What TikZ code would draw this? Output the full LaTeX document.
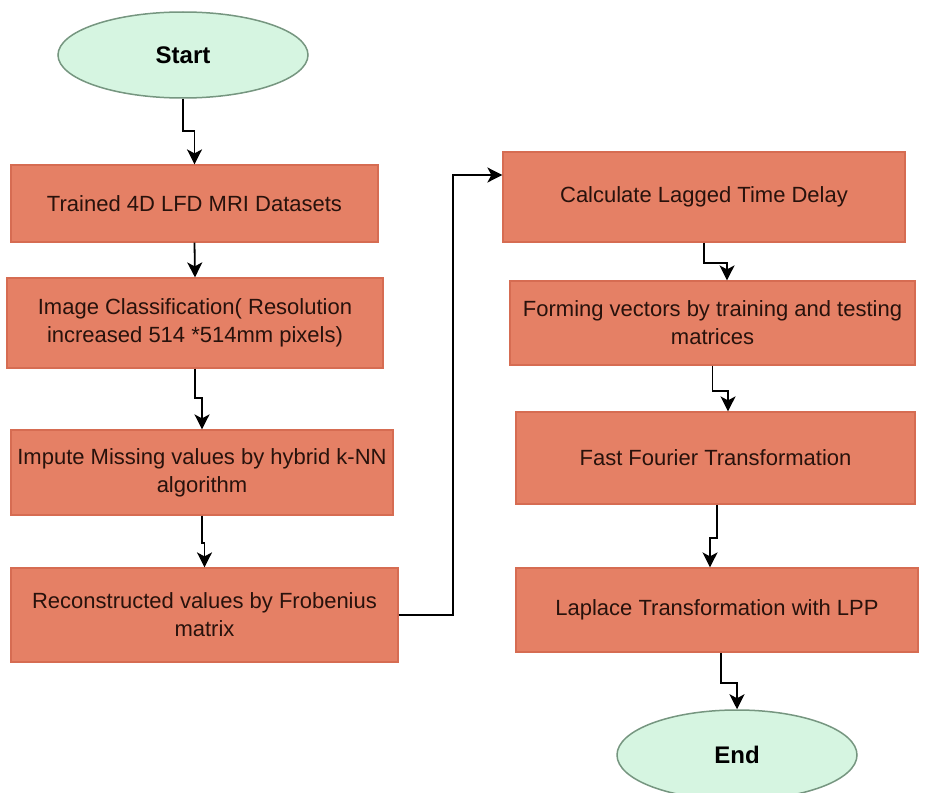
\documentclass[tikz,border=0pt]{standalone}
\usepackage{fontspec}
\setmainfont{Liberation Sans}
\usetikzlibrary{shapes.geometric,arrows.meta,calc}
\definecolor{boxfill}{RGB}{229,128,101}
\definecolor{boxline}{RGB}{214,108,82}
\definecolor{termfill}{RGB}{214,245,225}
\definecolor{termline}{RGB}{118,150,128}
\definecolor{txt}{RGB}{40,18,12}
\begin{document}
\begin{tikzpicture}[x=1pt,y=-1pt,
  procbox/.style={rectangle,draw=boxline,line width=1.2pt,fill=boxfill,
    align=center,inner sep=0pt,text=txt,font=\fontsize{22}{28}\selectfont},
  term/.style={ellipse,draw=termline,line width=1.5pt,fill=termfill,
    inner sep=0pt,font=\fontsize{24}{28}\selectfont\bfseries},
  arr/.style={draw=black,line width=1.8pt,-{Stealth[length=15pt,width=15pt,inset=4pt]}}]
\useasboundingbox (0,0) rectangle (928,792);
\fill[white] (0,0) rectangle (928,792);
% left column
\node[term,minimum width=250pt,minimum height=86pt] (start) at (183,55) {Start};
\node[procbox,minimum width=367pt,minimum height=77pt] (l1) at (194.5,203.5) {Trained 4D LFD MRI Datasets};
\node[procbox,minimum width=376pt,minimum height=90pt] (l2) at (195,323) {Image Classification( Resolution\\increased 514 *514mm pixels)};
\node[procbox,minimum width=382pt,minimum height=85pt] (l3) at (202,472.5) {Impute Missing values by hybrid k-NN\\algorithm};
\node[procbox,minimum width=387pt,minimum height=94pt] (l4) at (204.5,615) {Reconstructed values by Frobenius\\matrix};
% right column
\node[procbox,minimum width=402pt,minimum height=90pt] (r1) at (704,197) {Calculate Lagged Time Delay};
\node[procbox,minimum width=405pt,minimum height=84pt] (r2) at (712.5,323) {Forming vectors by training and testing\\matrices};
\node[procbox,minimum width=399pt,minimum height=92pt] (r3) at (715.5,458) {Fast Fourier Transformation};
\node[procbox,minimum width=402pt,minimum height=84pt] (r4) at (717,610) {Laplace Transformation with LPP};
\node[term,minimum width=240pt,minimum height=90pt] (end) at (737,755) {End};
% connectors
\draw[arr] (start.south) -- ++(0,32) -| (l1.north);
\draw[arr] (l1.south) -- (l2.north);
\draw[arr] (l2.south) -- ++(0,29) -| (l3.north);
\draw[arr] (l3.south) -- ++(0,27) -| (l4.north);
\draw[arr] (l4.east) -- ++(54,0) |- ($(r1.west)+(0,-22)$);
\draw[arr] (r1.south) -- ++(0,20) -| ($(r2.north)+(14.5,0)$);
\draw[arr] (r2.south) -- ++(0,25) -| ($(r3.north)+(12.5,0)$);
\draw[arr] ($(r3.south)+(1.5,0)$) -- ++(0,33) -| ($(r4.north)+(-7,0)$);
\draw[arr] ($(r4.south)+(4,0)$) -- ++(0,30) -| (end.north);
\end{tikzpicture}
\end{document}
